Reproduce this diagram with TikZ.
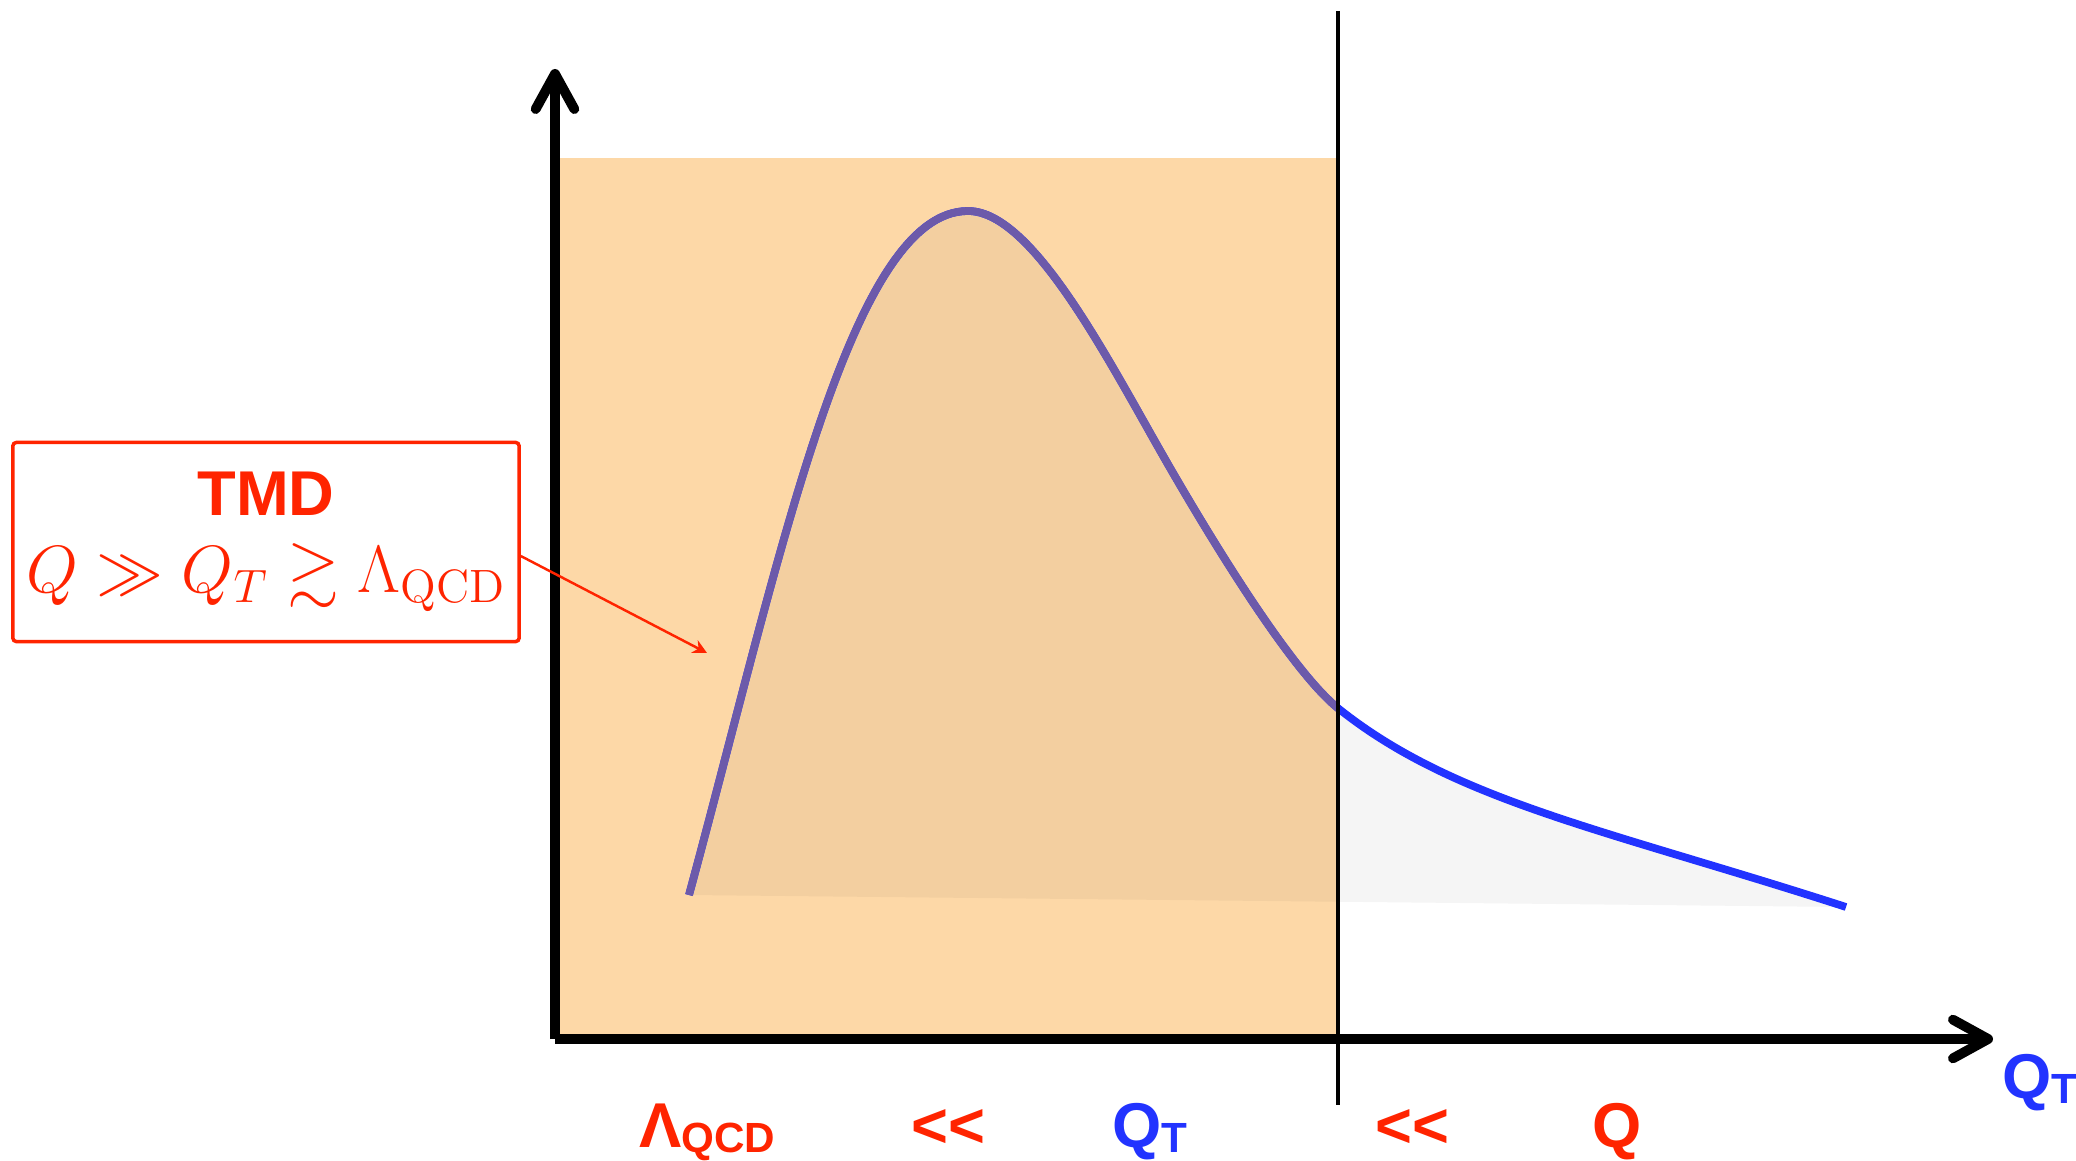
\documentclass[tikz,border=0pt]{standalone}
\usepackage{fix-cm}
\usepackage{amsmath,amssymb}
\usepackage{fontspec}
\setsansfont{Liberation Sans}
\usepackage{xcolor}
\usetikzlibrary{arrows.meta}

\definecolor{tmdred}{RGB}{255,36,0}
\definecolor{qtblue}{RGB}{34,51,255}
\definecolor{peach}{RGB}{253,216,167}
\definecolor{curvepurple}{RGB}{108,90,170}

\newcommand{\lowsub}[1]{\raisebox{-1.5pt}{\fontsize{12}{12}\selectfont #1}}
\newcommand{\muchless}{\mbox{<}\mbox{<}}

\begin{document}
\begin{tikzpicture}[x=0.01cm,y=-0.01cm,
  axis/.style={line width=2.8pt,-{Straight Barb[length=10pt,width=11pt,round]}},
  scalelbl/.style={font=\fontsize{18}{20}\selectfont\sffamily\bfseries,anchor=base,inner sep=0pt}]
  \useasboundingbox (0,0) rectangle (2076,1161);
  % TMD region
  \fill[peach] (559,158) rectangle (1337,1037);
  % points of the curve
  \coordinate (c0) at (689,895);
  \coordinate (peak) at (968,211);
  \coordinate (infl) at (1173,473);
  \coordinate (cross) at (1339,709);
  \coordinate (cend) at (1846,907);
  % area under the curve
  \fill[black,fill opacity=0.04] (c0) .. controls (780,560) and (850,211) .. (peak)
    .. controls (1035,211) and (1113,370) .. (infl)
    .. controls (1213,542) and (1292,672) .. (cross)
    .. controls (1456,802) and (1608,830) .. (cend) -- cycle;
  \draw[qtblue,line width=2.2pt] (c0) .. controls (780,560) and (850,211) .. (peak)
    .. controls (1035,211) and (1113,370) .. (infl)
    .. controls (1213,542) and (1292,672) .. (cross)
    .. controls (1456,802) and (1608,830) .. (cend);
  \begin{scope}
    \clip (0,0) rectangle (1338,1161);
    \draw[curvepurple,line width=2.2pt] (c0) .. controls (780,560) and (850,211) .. (peak)
      .. controls (1035,211) and (1113,370) .. (infl)
      .. controls (1213,542) and (1292,672) .. (cross);
  \end{scope}
  % axes
  \coordinate (origin) at (555,1039);
  \coordinate (ytip) at (555,69);
  \coordinate (xtip) at (1993,1039);
  \draw[axis] (origin) -- (ytip);
  \draw[axis] (origin) -- (xtip);
  \coordinate (cuttop) at (1338,11);
  \coordinate (cutbot) at (1338,1105);
  \draw[line width=1.2pt] (cuttop) -- (cutbot);
  % TMD box
  \node[draw=tmdred,line width=1pt,rounded corners=1pt,inner sep=0pt,minimum width=5.06cm,minimum height=1.99cm,align=center,text=tmdred] (tmd) at (266,542)
    {{\fontsize{18}{20}\sffamily\bfseries TMD}\\[7pt]{\fontsize{19}{22}\selectfont $Q \gg Q_T \gtrsim \Lambda_{\mathrm{QCD}}$}};
  \coordinate (tmdtip) at (707,653);
  \draw[tmdred,line width=0.7pt,-{Stealth[length=4pt,width=4pt]}] ([yshift=-4pt]tmd.east) -- (tmdtip);
  % scales
  \node[scalelbl,text=tmdred] (lqcd) at (707,1147) {Λ\lowsub{QCD}};
  \node[scalelbl,text=tmdred] (ll1) at (948,1147) {\muchless};
  \node[scalelbl,text=qtblue] (qt) at (1150,1147) {Q\lowsub{T}};
  \node[scalelbl,text=tmdred] (ll2) at (1412,1147) {\muchless};
  \node[scalelbl,text=tmdred] (qq) at (1617,1147) {Q};
  \node[scalelbl,text=qtblue,anchor=base west] (qtaxis) at (2002,1098) {Q\lowsub{T}};
\end{tikzpicture}
\end{document}
